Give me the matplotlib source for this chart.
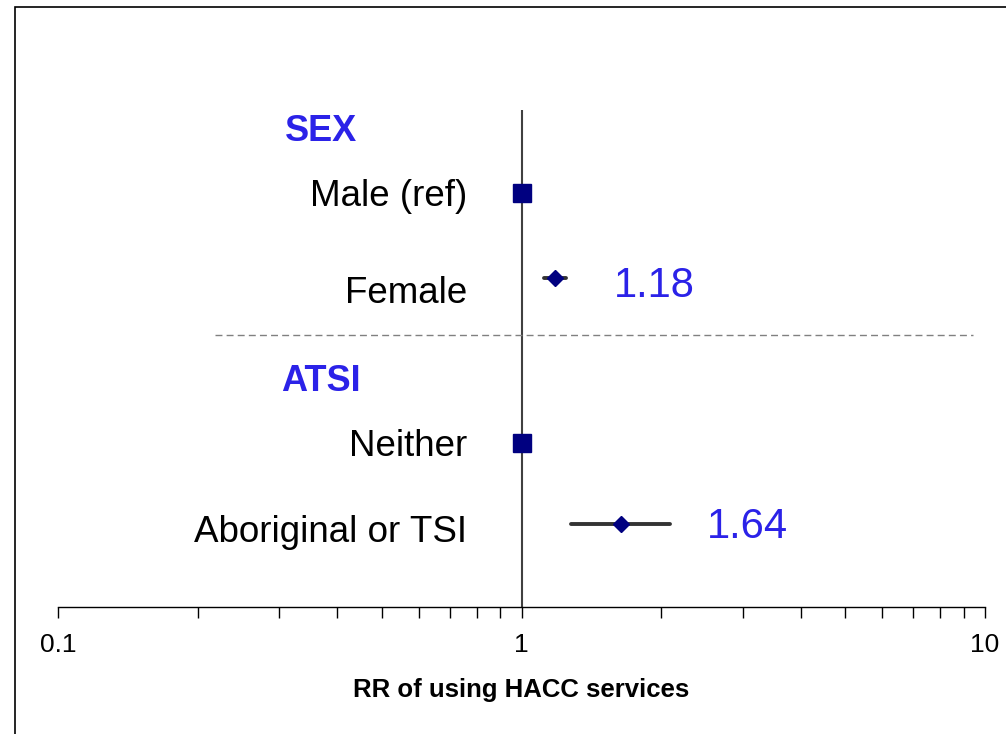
import numpy as np
import matplotlib.pyplot as plt
from matplotlib.patches import Rectangle
from matplotlib.ticker import LogLocator, NullFormatter, FixedLocator, FixedFormatter

plt.rcParams['font.family'] = ['Liberation Sans', 'DejaVu Sans']

# Data
row_labels = ['Male (ref)', 'Female', 'Neither', 'Aboriginal or TSI']
rr = [1.0, 1.18, 1.0, 1.64]
ci_low = [np.nan, 1.12, np.nan, 1.28]
ci_high = [np.nan, 1.25, np.nan, 2.09]
is_ref = [True, False, True, False]
value_text = ['', '1.18', '', '1.64']
group_names = ['SEX', 'ATSI']

# Layout (rows counted from the top of the plot area)
row_y = [1.0, 2.03, 4.02, 5.0]
label_y = [1.05, 2.22, 4.06, 5.1]
value_x = [None, 1.58, None, 2.51]
value_y = [None, 2.12, None, 5.04]
group_y = [0.26, 3.28]
sep_y = 2.72

blue = '#2B22E8'
navy = '#000080'

fig = plt.figure(figsize=(10.06, 7.34), dpi=100)
ax = fig.add_axes([58 / 1006, 1 - 607 / 734, (985 - 58) / 1006, (607 - 110) / 734])
ax.set_xscale('log')
ax.set_xlim(0.1, 10)
ax.set_ylim(6, 0)

for s in ['top', 'right', 'left']:
    ax.spines[s].set_visible(False)
ax.spines['bottom'].set_linewidth(1.0)
ax.set_yticks([])

ax.xaxis.set_major_locator(FixedLocator([0.1, 1, 10]))
ax.xaxis.set_major_formatter(FixedFormatter(['0.1', '1', '10']))
ax.xaxis.set_minor_locator(LogLocator(base=10, subs=np.arange(2, 10)))
ax.xaxis.set_minor_formatter(NullFormatter())
ax.tick_params(axis='x', which='both', direction='out', length=8, width=1,
               labelsize=19, pad=11)
ax.set_xlabel('RR of using HACC services', fontsize=18.5, fontweight='bold',
              labelpad=15)

# reference line at RR = 1
ax.axvline(1, color='#404040', lw=1.5, zorder=1)

# separator between groups
ax.plot([0.218, 9.42], [sep_y, sep_y], color='#808080', lw=1,
        ls=(0, (5, 3)), clip_on=False)

for i in range(len(row_labels)):
    y = row_y[i]
    if is_ref[i]:
        ax.plot(rr[i], y, marker='s', ms=13.5, color=navy, zorder=3)
    else:
        ax.plot([ci_low[i], ci_high[i]], [y, y], color='#333333', lw=2.8,
                solid_capstyle='round', zorder=2)
        ax.plot(rr[i], y, marker='D', ms=8.5, color=navy, zorder=3)
        ax.text(value_x[i], value_y[i], value_text[i], color=blue, fontsize=30,
                ha='left', va='center')
    ax.text(0.764, label_y[i], row_labels[i], fontsize=26.5, ha='right',
            va='center')

for name, gy in zip(group_names, group_y):
    ax.text(0.37, gy, name, color=blue, fontsize=26, fontweight='bold',
            ha='center', va='center')

# outer frame
fig.patches.append(Rectangle((15 / 1006, -0.5), 2, 1.5 - 7 / 734,
                             transform=fig.transFigure, fill=False,
                             edgecolor='black', lw=1.2))

fig.savefig('out.png', dpi=100)
